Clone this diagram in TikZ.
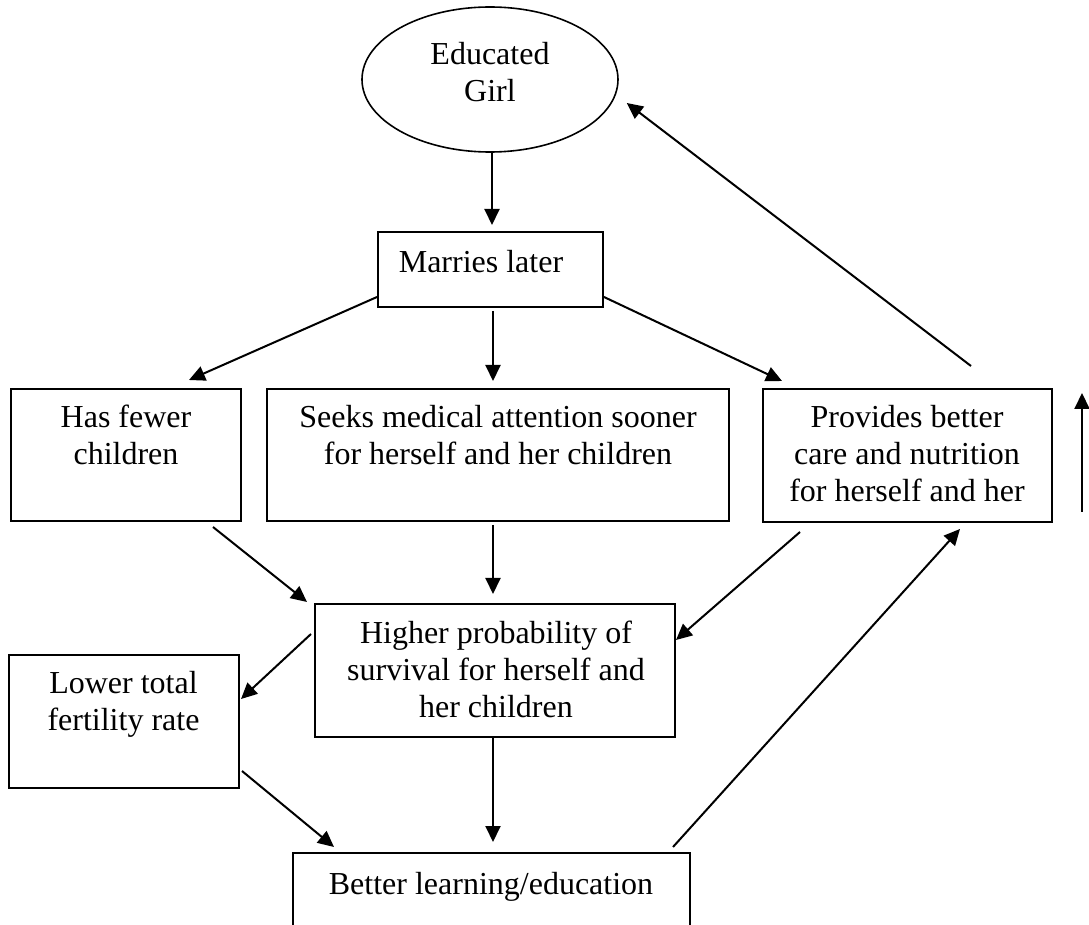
\documentclass[tikz,border=0pt]{standalone}
\usepackage{fontspec}
\setmainfont{Liberation Serif}
\usetikzlibrary{shapes.geometric,arrows.meta,calc}
% centred multi-line text whose reference point is the first baseline
\newcommand\txtlines[1]{\begin{tabular}[t]{@{}c@{}}#1\end{tabular}}
\begin{document}
\begin{tikzpicture}[x=0.5pt,y=-0.5pt,
  box/.style={draw, line width=1pt, rectangle, inner sep=0pt},
  oval/.style={draw, line width=0.8pt, ellipse, inner sep=0pt},
  txt/.style={anchor=base, inner sep=0pt, font=\fontsize{16pt}{18.5pt}\selectfont},
  arr/.style={line width=1pt, -{Triangle[length=8pt,width=7.5pt]}}]
\useasboundingbox (0,0) rectangle (1089,925);
\clip (0,0) rectangle (1089,925);

% shapes
\node[oval, minimum width=128pt, minimum height=72.5pt] (girl) at (490,79.5) {};
\node[box, minimum width=112.5pt, minimum height=37.5pt] (marries) at (490.5,269.5) {};
\node[box, minimum width=115pt, minimum height=66pt] (has) at (126,455) {};
\node[box, minimum width=231pt, minimum height=66pt] (seeks) at (498,455) {};
\node[box, minimum width=144.5pt, minimum height=66.5pt] (provides) at (907.5,455.5) {};
\node[box, minimum width=180pt, minimum height=66.5pt] (higher) at (495,670.5) {};
\node[box, minimum width=115pt, minimum height=66.5pt] (lower) at (124,721.5) {};
\node[box, minimum width=198.5pt, minimum height=50pt] (better) at (491.5,903) {};

% texts
\node[txt] (girlT) at (490,65) {\txtlines{Educated\\Girl}};
\node[txt] (marriesT) at (481,273) {\txtlines{Marries later}};
\node[txt] (hasT) at (126,427.5) {\txtlines{Has fewer\\children}};
\node[txt] (seeksT) at (498,427.5) {\txtlines{Seeks medical attention sooner\\for herself and her children}};
\node[txt] (providesT) at (907,427.7) {\txtlines{Provides better\\care and nutrition\\for herself and her}};
\node[txt] (higherT) at (496,644) {\txtlines{Higher probability of\\survival for herself and\\her children}};
\node[txt] (lowerT) at (123.5,694) {\txtlines{Lower total\\fertility rate}};
\node[txt] (betterT) at (491,894) {\txtlines{Better learning/education}};

% connectors
\draw[arr] ($(girl.south)+(2,0)$) -- ($(marries.north)+(1.5,-6)$);
\draw[arr] ($(marries.south west)+(0,-11)$) -- ($(has.north)+(63,-8)$);
\draw[arr] ($(marries.south)+(2.5,3)$) -- ($(seeks.north)+(-5,-7)$);
\draw[arr] ($(marries.south east)+(0,-11)$) -- ($(provides.north west)+(20,-7)$);
\draw[arr] ($(provides.north)+(63.5,-22)$) -- ($(girl.east)+(8,23.5)$);
\draw[arr] ($(has.south)+(87,5)$) -- ($(higher.north west)+(-7,-1)$);
\draw[arr] ($(seeks.south)+(-5,3)$) -- ($(higher.north)+(-2,-9)$);
\draw[arr] ($(provides.south)+(-107.5,9)$) -- ($(higher.east)+(0,-30.5)$);
\draw[arr] ($(higher.west)+(-3,-36.5)$) -- ($(lower.east)+(1,-22.5)$);
\draw[arr] ($(lower.east)+(2,49.5)$) -- ($(better.north west)+(42,-5)$);
\draw[arr] ($(higher.south)+(-2,0)$) -- ($(better.north)+(1.5,-10)$);
\draw[arr] ($(better.north east)+(-18,-5)$) -- ($(provides.south)+(52.5,6)$);

% lone upward arrow at the right margin
\coordinate (upA) at (1082,512);
\coordinate (upB) at (1082,393);
\draw[arr] (upA) -- (upB);
\end{tikzpicture}
\end{document}
